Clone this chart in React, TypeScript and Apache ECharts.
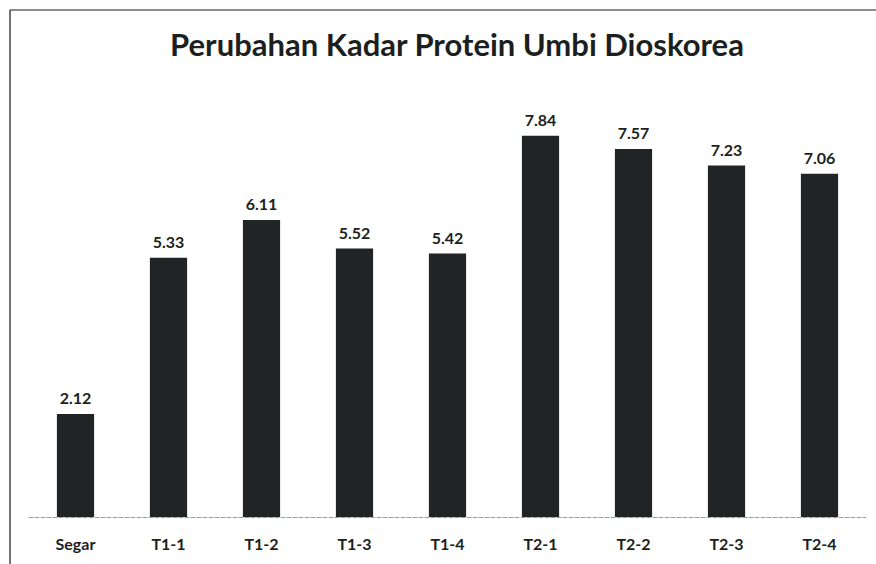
import React, { useEffect, useRef } from "react";
import * as echarts from "echarts";

const categories = ["Segar", "T1-1", "T1-2", "T1-3", "T1-4", "T2-1", "T2-2", "T2-3", "T2-4"];
const proteinValues = [2.12, 5.33, 6.11, 5.52, 5.42, 7.84, 7.57, 7.23, 7.06];
const titleText = "Perubahan Kadar Protein Umbi Dioskorea";

export default function App() {
  const ref = useRef<HTMLDivElement>(null);
  useEffect(() => {
    if (!ref.current) return;
    const chart = echarts.init(ref.current, null, { renderer: "svg" });
    chart.setOption({
      animation: false,
      backgroundColor: "#ffffff",
      title: {
        text: titleText,
        left: 452,
        textAlign: "center",
        top: 23,
        textStyle: {
          fontFamily: "Lato",
          fontWeight: "bold",
          fontSize: 31,
          color: "#1c1f20",
        },
      },
      graphic: [
        { type: "line", shape: { x1: 10, y1: 10, x2: 876, y2: 10 }, style: { stroke: "#666", lineWidth: 1.5 } },
        { type: "line", shape: { x1: 10, y1: 10, x2: 10, y2: 564 }, style: { stroke: "#444", lineWidth: 1.5 } },
      ],
      grid: { left: 29, right: 10, top: 128, bottom: 47, containLabel: false },
      xAxis: {
        type: "category",
        data: categories,
        axisTick: { show: false },
        axisLine: { lineStyle: { color: "#9a9a9a", width: 1, type: "dashed" } },
        axisLabel: {
          margin: 18,
          fontFamily: "Lato",
          fontWeight: "bold",
          fontSize: 16,
          color: "#1c1f20",
        },
      },
      yAxis: {
        type: "value",
        min: 0,
        max: 8,
        show: false,
        splitLine: { show: false },
      },
      series: [
        {
          type: "bar",
          data: proteinValues,
          barWidth: "40%",
          itemStyle: { color: "#202424" },
          label: {
            show: true,
            position: "top",
            distance: 8,
            formatter: (p: any) => p.value.toFixed(2),
            fontFamily: "Lato",
            fontWeight: "bold",
            fontSize: 16,
            color: "#1c1f20",
          },
        },
      ],
    });
    return () => chart.dispose();
  }, []);
  return <div ref={ref} style={{ width: 876, height: 564, position: "absolute", left: 0, top: 0 }} />;
}
